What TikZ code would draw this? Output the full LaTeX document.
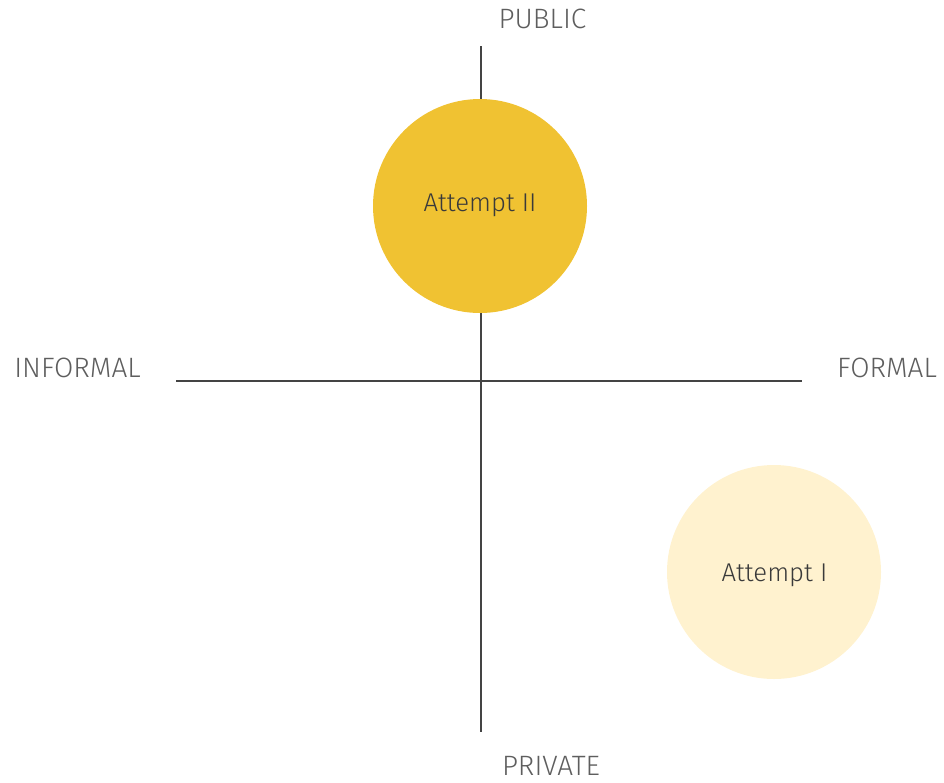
\documentclass[tikz,border=0pt]{standalone}
\usepackage{fontspec}
\setmainfont{Fira Sans Light}
\definecolor{axisgray}{HTML}{444444}
\definecolor{labelgray}{HTML}{5E5E5E}
\definecolor{textdark}{HTML}{3A3A3A}
\definecolor{goldfill}{HTML}{F0C232}
\definecolor{creamfill}{HTML}{FFF2CF}
\begin{document}
\begin{tikzpicture}[x=0.75pt,y=-0.75pt,
  axis/.style={draw=axisgray,line width=1.5pt},
  axislabel/.style={text=labelgray,font=\fontsize{21}{24}\selectfont,inner sep=0pt,anchor=base},
  attempt/.style={circle,minimum size=160.5pt,inner sep=0pt,draw=none},
  attemptlabel/.style={text=textdark,font=\fontsize{19.3}{22}\selectfont,inner sep=0pt,anchor=base}]
\useasboundingbox (0,0) rectangle (944,782);
% axis end points
\coordinate (top) at (481,46);
\coordinate (bottom) at (481,732);
\coordinate (left) at (176,381);
\coordinate (right) at (802,381);
% the two attempts
\node[attempt,fill=creamfill] (a1) at (774,572) {};
\draw[axis] (top) -- (bottom);
\draw[axis] (left) -- (right);
\node[attempt,fill=goldfill] (a2) at (480,206) {};
\node[attemptlabel] (a2t) at (480,211) {Attempt II};
\node[attemptlabel] (a1t) at (774.5,581) {Attempt I};
% axis labels
\node[axislabel] (public) at (542.5,28) {PUBLIC};
\node[axislabel] (private) at (551,775) {PRIVATE};
\node[axislabel] (informal) at (77.5,377) {INFORMAL};
\node[axislabel] (formal) at (887,377) {FORMAL};
\end{tikzpicture}
\end{document}
